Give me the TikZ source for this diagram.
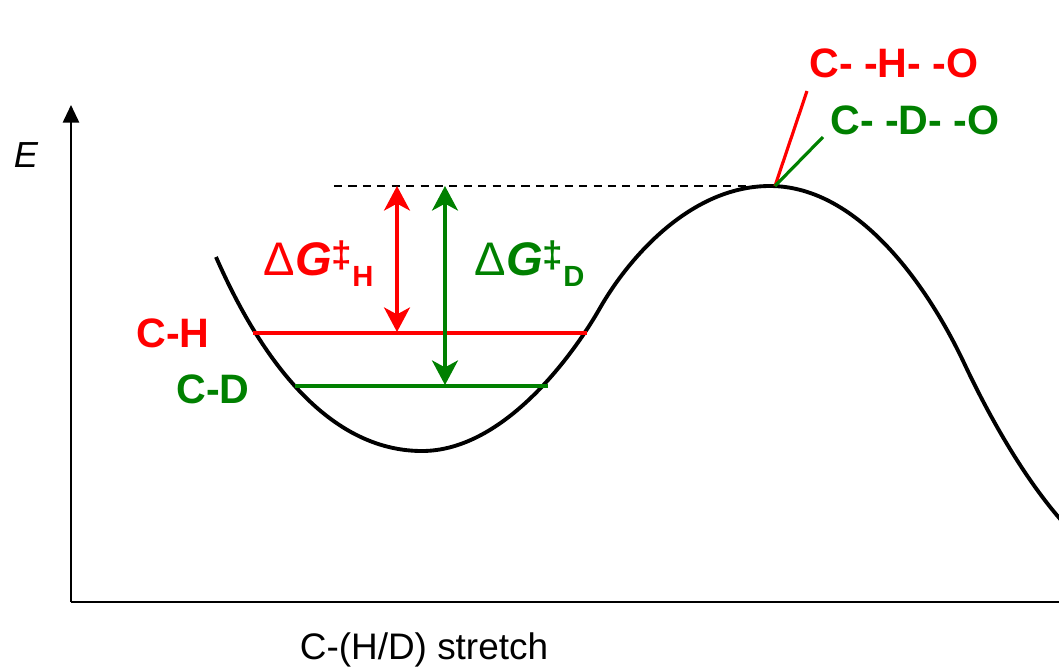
\documentclass[tikz,border=0pt]{standalone}
\usepackage{fontspec}
\setmainfont{Liberation Sans}
\usetikzlibrary{arrows.meta}
\definecolor{cred}{RGB}{255,0,0}
\definecolor{cgreen}{RGB}{0,128,0}
\newcommand{\dgsym}[1]{\fontsize{13.4}{16}\selectfont Δ\textbf{\textit{G}}\raisebox{2.2pt}{\fontsize{10.5}{12}\selectfont\bfseries ‡}\raisebox{-3.4pt}{\fontsize{8.3}{10}\selectfont\bfseries #1}}
\begin{document}
\begin{tikzpicture}[x=0.01cm,y=-0.01cm,
  lbl/.style={font=\fontsize{11.7}{14}\selectfont\bfseries, inner sep=0pt},
  dg/.style={inner sep=0pt, anchor=base west},
  dbl/.style={line width=0.9pt, {Stealth[length=7pt,width=7.4pt,inset=2pt]}-{Stealth[length=7pt,width=7.4pt,inset=2pt]}},
  lvl/.style={line width=0.9pt},
  axis/.style={line width=0.6pt},
  leader/.style={line width=0.9pt}
]
\useasboundingbox (0,0) rectangle (1059,672);
\begin{scope}
\clip (0,0) rectangle (1059,672);
\draw[line width=1.1pt]
 (216,257) .. controls (270,380) and (340,451) .. (422,451)
 .. controls (505,451) and (575,352) .. (600,308)
 .. controls (628,259) and (690,186) .. (770,186)
 .. controls (860,186) and (930,290) .. (965,365)
 .. controls (990,418) and (1030,490) .. (1075,535);
\end{scope}
% axes
\coordinate (O) at (71,602);
\coordinate (Ytop) at (71,105);
\coordinate (Xend) at (1059,602);
\draw[axis, -{Triangle[length=5pt,width=4.6pt]}] (O) -- (Ytop);
\draw[axis] (O) -- (Xend);
\node[inner sep=0pt, font=\fontsize{10.3}{12}\selectfont\itshape] (E) at (26,155) {E};
\node[inner sep=0pt, font=\fontsize{10.5}{12}\selectfont] (xl) at (424,650) {C-(H/D) stretch};
% levels
\coordinate (chL) at (253,333); \coordinate (chR) at (587,333);
\coordinate (cdL) at (295,386); \coordinate (cdR) at (548,386);
\draw[lvl, cred] (chL) -- (chR);
\draw[lvl, cgreen] (cdL) -- (cdR);
\node[lbl, text=cred] (CH) at (173,333) {C-H};
\node[lbl, text=cgreen] (CD) at (213,389) {C-D};
% dashed barrier level
\coordinate (dashL) at (334,186); \coordinate (TS) at (770,186);
\draw[dashed, dash pattern=on 2.3pt off 1.8pt, line width=0.45pt] (dashL) -- (TS);
% activation arrows
\coordinate (aH1) at (397,186); \coordinate (aH2) at (397,332);
\coordinate (aD1) at (445,186); \coordinate (aD2) at (445,385);
\draw[dbl, cred] (aH1) -- (aH2);
\draw[dbl, cgreen] (aD1) -- (aD2);
\node[dg, text=cred] (dGH) at (263,275) {\dgsym{H}};
\node[dg, text=cgreen] (dGD) at (474,275) {\dgsym{D}};
% transition state labels
\coordinate (ts) at (775,186);
\coordinate (lH) at (807,91);
\coordinate (lD) at (823,137);
\draw[leader, cred] (ts) -- (lH);
\draw[leader, cgreen] (ts) -- (lD);
\node[lbl, text=cred] (TSH) at (894,63) {C- -H- -O};
\node[lbl, text=cgreen] (TSD) at (915,120) {C- -D- -O};
\end{tikzpicture}
\end{document}
